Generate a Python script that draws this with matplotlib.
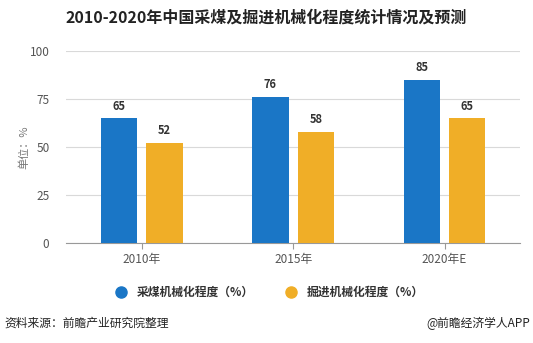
import numpy as np
import matplotlib.pyplot as plt
from matplotlib.lines import Line2D

plt.rcParams['font.family'] = ['Noto Sans CJK SC', 'DejaVu Sans']

years = ['2010年', '2015年', '2020年E']
coal_mining = [65, 76, 85]
tunneling = [52, 58, 65]
series_names = ['采煤机械化程度（%）', '掘进机械化程度（%）']
colors = ['#1a76c6', '#f0ae27']

fig = plt.figure(figsize=(5.33, 3.43), dpi=100)
ax = fig.add_axes([0.124, 0.2915, 0.852, 0.5595])

x = np.arange(len(years))
w = 0.24
b1 = ax.bar(x - 0.15, coal_mining, w, color=colors[0], zorder=3)
b2 = ax.bar(x + 0.15, tunneling, w, color=colors[1], zorder=3)

for bars, vals in [(b1, coal_mining), (b2, tunneling)]:
    for r, v in zip(bars, vals):
        ax.text(r.get_x() + r.get_width() / 2, v + 3, str(v), ha='center', va='bottom',
                fontsize=8, fontweight='bold', color='#333333')

ax.set_xlim(-0.5, 2.5)
ax.set_ylim(0, 100)
ax.set_yticks([0, 25, 50, 75, 100])
ax.set_xticks(x)
ax.set_xticklabels(years)
ax.grid(axis='y', color='#d9d9d9', linewidth=0.8, zorder=0)
for s in ['top', 'right', 'left']:
    ax.spines[s].set_visible(False)
ax.spines['bottom'].set_color('#999999')
ax.tick_params(axis='y', length=0, labelsize=8.5, labelcolor='#555555', pad=12)
ax.tick_params(axis='x', length=4, color='#999999', labelsize=8.5, labelcolor='#555555')
ax.set_ylabel('单位：%', fontsize=8, color='#777777', labelpad=0)

handles = [Line2D([], [], marker='o', linestyle='', markersize=8, color=c) for c in colors]
fig.legend(handles, series_names, loc='center', bbox_to_anchor=(0.5, 0.148), ncol=2,
           frameon=False, handletextpad=0.3, columnspacing=2.2,
           labelcolor='#333333', prop={'weight': 'bold', 'size': 8.5})

fig.text(0.5, 0.948, '2010-2020年中国采煤及掘进机械化程度统计情况及预测', ha='center', va='center',
         fontsize=11.5, fontweight='bold', color='#222222')
fig.text(0.009, 0.058, '资料来源：前瞻产业研究院整理', ha='left', va='center', fontsize=8.5, color='#222222')
fig.text(0.995, 0.058, '@前瞻经济学人APP', ha='right', va='center', fontsize=8.5, color='#222222')

fig.savefig('out.png', dpi=100)
